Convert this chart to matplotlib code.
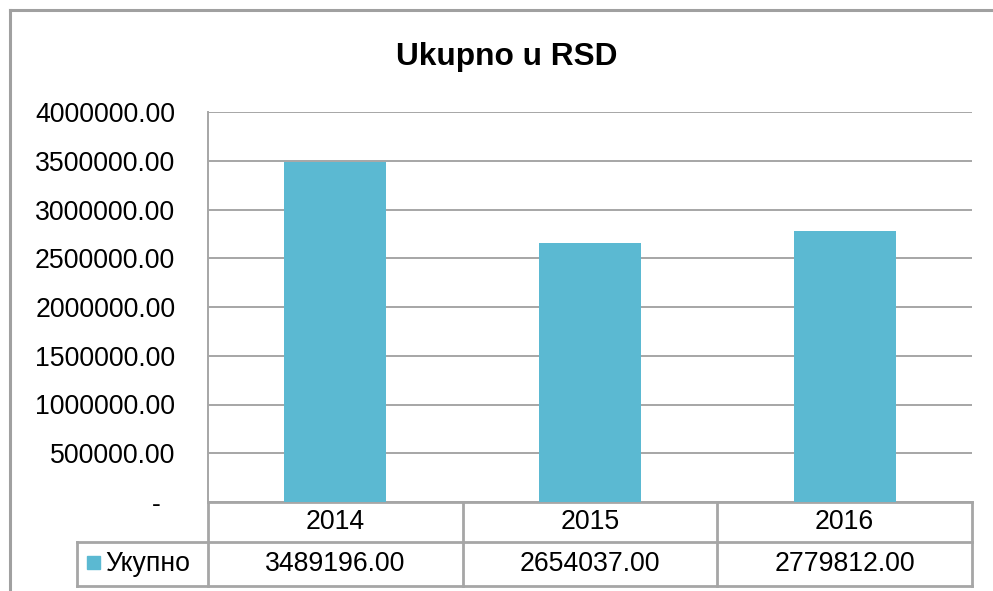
import matplotlib
matplotlib.use("Agg")
import matplotlib.pyplot as plt
from matplotlib.lines import Line2D
from matplotlib.patches import Rectangle
import matplotlib.transforms as mtransforms

plt.rcParams['font.family'] = ['Liberation Sans', 'DejaVu Sans']

# ---- data ----
title = "Ukupno u RSD"
years = ["2014", "2015", "2016"]
values = [3489196.00, 2654037.00, 2779812.00]
series_name = "Укупно"
yticks = [0, 500000, 1000000, 1500000, 2000000, 2500000, 3000000, 3500000, 4000000]

bar_color = "#5BB9D2"
grid_color = "#A6A6A6"
W, H = 993, 591
fs = 19.2

fig = plt.figure(figsize=(W / 100, H / 100), dpi=100)
fig.patch.set_facecolor("white")

# outer chart border (extends beyond the visible area)
fig.add_artist(Line2D([10 / W, 10 / W], [1 - 10 / H, 0], transform=fig.transFigure,
                      color="#A0A0A0", lw=2.2))
fig.add_artist(Line2D([10 / W, 1], [1 - 10 / H, 1 - 10 / H], transform=fig.transFigure,
                      color="#A0A0A0", lw=2.2))

left, right, top, bottom = 208, 972, 112, 502
ax = fig.add_axes([left / W, 1 - bottom / H, (right - left) / W, (bottom - top) / H])

x = list(range(len(years)))
ax.bar(x, values, width=0.4, color=bar_color, zorder=3)
ax.set_xlim(-0.5, len(years) - 0.5)
ax.set_ylim(yticks[0], yticks[-1])
ax.set_yticks(yticks)
ax.set_yticklabels(["-  " if v == 0 else f"{v:.2f}" for v in yticks], fontsize=fs)
ax.tick_params(axis='y', length=0, pad=23.5)
ax.set_xticks([])
ax.grid(axis='y', color=grid_color, lw=1.4, zorder=0)
for s in ["top", "right", "bottom"]:
    ax.spines[s].set_visible(False)
ax.spines["left"].set_color(grid_color)
ax.spines["left"].set_linewidth(1.4)

fig.text(507 / W, 1 - 57 / H, title, ha="center", va="center",
         fontsize=22.8, fontweight="bold")

# ---- data table below the axes ----
ph = bottom - top
r1 = -(542 - bottom) / ph
r2 = -(586 - bottom) / ph
leg_left = (77 - left) / (right - left)
tb = mtransforms.blended_transform_factory(ax.transData, ax.transAxes)
ta = ax.transAxes
lkw = dict(color=grid_color, lw=2, clip_on=False, solid_capstyle="projecting")

# horizontal lines
ax.add_line(Line2D([0, 1], [0, 0], transform=ta, **lkw))
ax.add_line(Line2D([leg_left, 1], [r1, r1], transform=ta, **lkw))
ax.add_line(Line2D([leg_left, 1], [r2, r2], transform=ta, **lkw))
# vertical lines
for i in range(len(years) + 1):
    ax.add_line(Line2D([i - 0.5, i - 0.5], [0, r2], transform=tb, **lkw))
ax.add_line(Line2D([leg_left, leg_left], [r1, r2], transform=ta, **lkw))

for i, (yr, v) in enumerate(zip(years, values)):
    ax.text(i, r1 / 2, yr, transform=tb, ha="center", va="center", fontsize=fs)
    ax.text(i, (r1 + r2) / 2, f"{v:.2f}", transform=tb, ha="center", va="center",
            fontsize=fs)

# legend key in table
sq = 13
ax.add_patch(Rectangle(((87 - left) / (right - left), -(569 - bottom) / ph),
                       sq / (right - left), sq / ph, transform=ta,
                       color=bar_color, clip_on=False))
ax.text((105 - left) / (right - left), (r1 + r2) / 2, series_name, transform=ta,
        ha="left", va="center", fontsize=fs)

fig.savefig("out.png", dpi=100)
